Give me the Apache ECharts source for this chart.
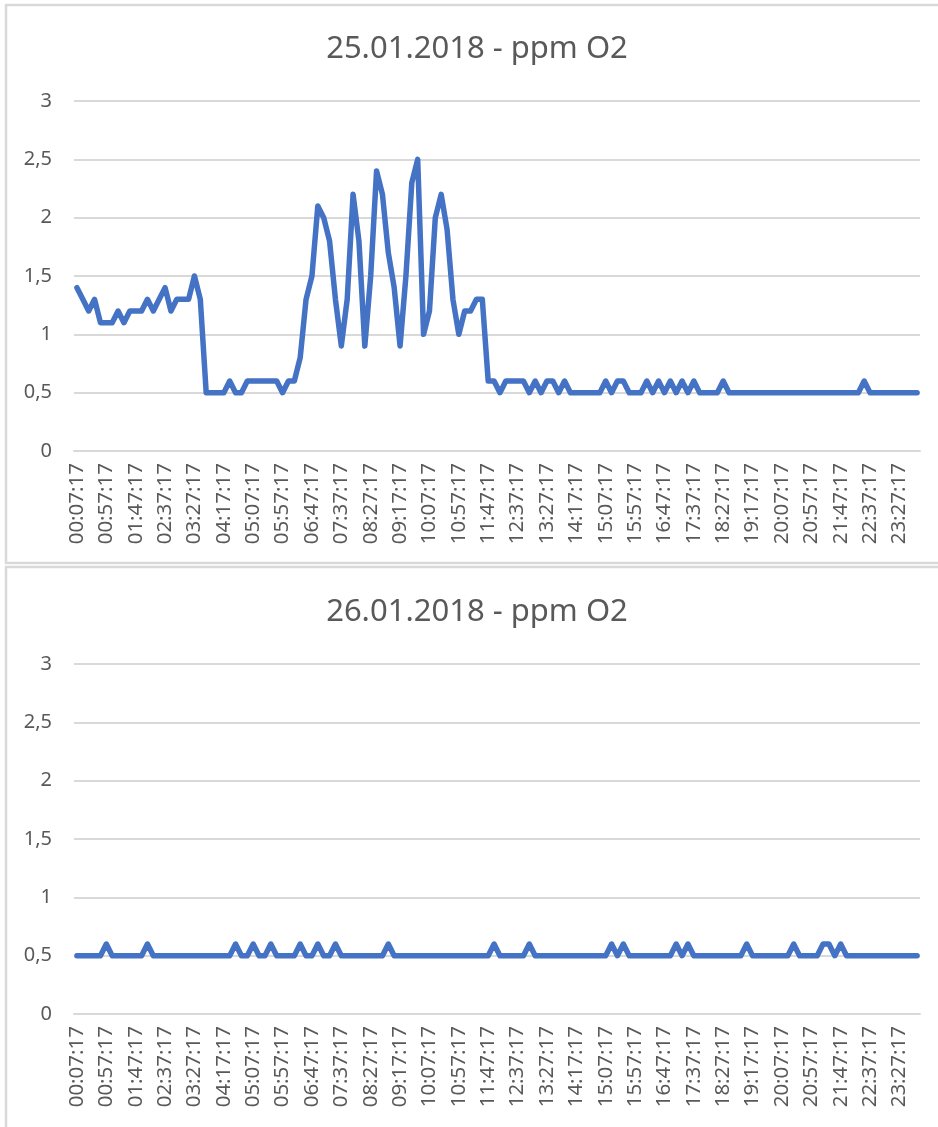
<!DOCTYPE html>
<html>
<head>
<meta charset="utf-8">
<script src="https://cdn.jsdelivr.net/npm/echarts@6/dist/echarts.min.js"></script>
<style>
html,body{margin:0;padding:0;background:#fff;}
#chart{width:938px;height:1127px;}
</style>
</head>
<body>
<div id="chart"></div>
<script>
// Category labels (every 10 minutes)
var times = [
"00:07:17","00:17:17","00:27:17","00:37:17","00:47:17","00:57:17","01:07:17","01:17:17","01:27:17","01:37:17","01:47:17","01:57:17",
"02:07:17","02:17:17","02:27:17","02:37:17","02:47:17","02:57:17","03:07:17","03:17:17","03:27:17","03:37:17","03:47:17","03:57:17",
"04:07:17","04:17:17","04:27:17","04:37:17","04:47:17","04:57:17","05:07:17","05:17:17","05:27:17","05:37:17","05:47:17","05:57:17",
"06:07:17","06:17:17","06:27:17","06:37:17","06:47:17","06:57:17","07:07:17","07:17:17","07:27:17","07:37:17","07:47:17","07:57:17",
"08:07:17","08:17:17","08:27:17","08:37:17","08:47:17","08:57:17","09:07:17","09:17:17","09:27:17","09:37:17","09:47:17","09:57:17",
"10:07:17","10:17:17","10:27:17","10:37:17","10:47:17","10:57:17","11:07:17","11:17:17","11:27:17","11:37:17","11:47:17","11:57:17",
"12:07:17","12:17:17","12:27:17","12:37:17","12:47:17","12:57:17","13:07:17","13:17:17","13:27:17","13:37:17","13:47:17","13:57:17",
"14:07:17","14:17:17","14:27:17","14:37:17","14:47:17","14:57:17","15:07:17","15:17:17","15:27:17","15:37:17","15:47:17","15:57:17",
"16:07:17","16:17:17","16:27:17","16:37:17","16:47:17","16:57:17","17:07:17","17:17:17","17:27:17","17:37:17","17:47:17","17:57:17",
"18:07:17","18:17:17","18:27:17","18:37:17","18:47:17","18:57:17","19:07:17","19:17:17","19:27:17","19:37:17","19:47:17","19:57:17",
"20:07:17","20:17:17","20:27:17","20:37:17","20:47:17","20:57:17","21:07:17","21:17:17","21:27:17","21:37:17","21:47:17","21:57:17",
"22:07:17","22:17:17","22:27:17","22:37:17","22:47:17","22:57:17","23:07:17","23:17:17","23:27:17","23:37:17","23:47:17","23:57:17"
];

// 25.01.2018 - ppm O2
var o2Day1 = [
1.4,1.3,1.2,1.3,1.1,1.1,1.1,1.2,1.1,1.2,1.2,1.2,
1.3,1.2,1.3,1.4,1.2,1.3,1.3,1.3,1.5,1.3,0.5,0.5,
0.5,0.5,0.6,0.5,0.5,0.6,0.6,0.6,0.6,0.6,0.6,0.5,
0.6,0.6,0.8,1.3,1.5,2.1,2.0,1.8,1.3,0.9,1.3,2.2,
1.8,0.9,1.5,2.4,2.2,1.7,1.4,0.9,1.5,2.3,2.5,1.0,
1.2,2.0,2.2,1.9,1.3,1.0,1.2,1.2,1.3,1.3,0.6,0.6,
0.5,0.6,0.6,0.6,0.6,0.5,0.6,0.5,0.6,0.6,0.5,0.6,
0.5,0.5,0.5,0.5,0.5,0.5,0.6,0.5,0.6,0.6,0.5,0.5,
0.5,0.6,0.5,0.6,0.5,0.6,0.5,0.6,0.5,0.6,0.5,0.5,
0.5,0.5,0.6,0.5,0.5,0.5,0.5,0.5,0.5,0.5,0.5,0.5,
0.5,0.5,0.5,0.5,0.5,0.5,0.5,0.5,0.5,0.5,0.5,0.5,
0.5,0.5,0.6,0.5,0.5,0.5,0.5,0.5,0.5,0.5,0.5,0.5
];

// 26.01.2018 - ppm O2
var o2Day2 = [
0.5,0.5,0.5,0.5,0.5,0.6,0.5,0.5,0.5,0.5,0.5,0.5,
0.6,0.5,0.5,0.5,0.5,0.5,0.5,0.5,0.5,0.5,0.5,0.5,
0.5,0.5,0.5,0.6,0.5,0.5,0.6,0.5,0.5,0.6,0.5,0.5,
0.5,0.5,0.6,0.5,0.5,0.6,0.5,0.5,0.6,0.5,0.5,0.5,
0.5,0.5,0.5,0.5,0.5,0.6,0.5,0.5,0.5,0.5,0.5,0.5,
0.5,0.5,0.5,0.5,0.5,0.5,0.5,0.5,0.5,0.5,0.5,0.6,
0.5,0.5,0.5,0.5,0.5,0.6,0.5,0.5,0.5,0.5,0.5,0.5,
0.5,0.5,0.5,0.5,0.5,0.5,0.5,0.6,0.5,0.6,0.5,0.5,
0.5,0.5,0.5,0.5,0.5,0.5,0.6,0.5,0.6,0.5,0.5,0.5,
0.5,0.5,0.5,0.5,0.5,0.5,0.6,0.5,0.5,0.5,0.5,0.5,
0.5,0.5,0.6,0.5,0.5,0.5,0.5,0.6,0.6,0.5,0.6,0.5,
0.5,0.5,0.5,0.5,0.5,0.5,0.5,0.5,0.5,0.5,0.5,0.5
];

var titles = ["25.01.2018 - ppm O2", "26.01.2018 - ppm O2"];
var yTicks = [0, 0.5, 1, 1.5, 2, 2.5, 3];

var FONT = "'Noto Sans', 'Open Sans', sans-serif";
var TXT = '#595959';
var GRID = '#d9d9d9';

var chart = echarts.init(document.getElementById('chart'), null, {renderer: 'canvas'});

function xAxisFor(idx) {
  return {
    type: 'category', gridIndex: idx, data: times, boundaryGap: true,
    axisLine: {show: true, lineStyle: {color: GRID, width: 2}},
    axisTick: {show: false},
    axisLabel: {interval: 4, rotate: 90, margin: 12, color: TXT, fontSize: 20.5, fontFamily: FONT}
  };
}
function yAxisFor(idx) {
  return {
    type: 'value', gridIndex: idx, min: yTicks[0], max: yTicks[yTicks.length - 1], interval: yTicks[1] - yTicks[0],
    axisLine: {show: false}, axisTick: {show: false},
    splitLine: {lineStyle: {color: GRID, width: 2}},
    axisLabel: {margin: 22, color: TXT, fontSize: 20, fontFamily: FONT,
      formatter: function (v) { return String(v).replace('.', ','); }}
  };
}
function lineSeries(idx, data) {
  return {
    type: 'line', xAxisIndex: idx, yAxisIndex: idx, data: data,
    showSymbol: false, symbol: 'none', smooth: false,
    lineStyle: {color: '#4472C4', width: 5.5, join: 'round', cap: 'round'},
    itemStyle: {color: '#4472C4'}, animation: false
  };
}

chart.setOption({
  animation: false,
  backgroundColor: '#fff',
  grid: [
    {left: 74, width: 846, top: 101, height: 350},
    {left: 74, width: 846, top: 664, height: 350}
  ],
  xAxis: [xAxisFor(0), xAxisFor(1)],
  yAxis: [yAxisFor(0), yAxisFor(1)],
  series: [lineSeries(0, o2Day1), lineSeries(1, o2Day2)],
  graphic: [
    {type: 'rect', z: -1, shape: {x: 6, y: 5, width: 950, height: 558}, style: {fill: 'none', stroke: GRID, lineWidth: 2.5}},
    {type: 'rect', z: -1, shape: {x: 6, y: 567, width: 950, height: 580}, style: {fill: 'none', stroke: GRID, lineWidth: 2.5}},
    {type: 'text', x: 477, y: 49, style: {text: titles[0], textAlign: 'center', textVerticalAlign: 'middle', fill: TXT, font: '31px ' + FONT}},
    {type: 'text', x: 477, y: 612, style: {text: titles[1], textAlign: 'center', textVerticalAlign: 'middle', fill: TXT, font: '31px ' + FONT}}
  ]
});
</script>
</body>
</html>
